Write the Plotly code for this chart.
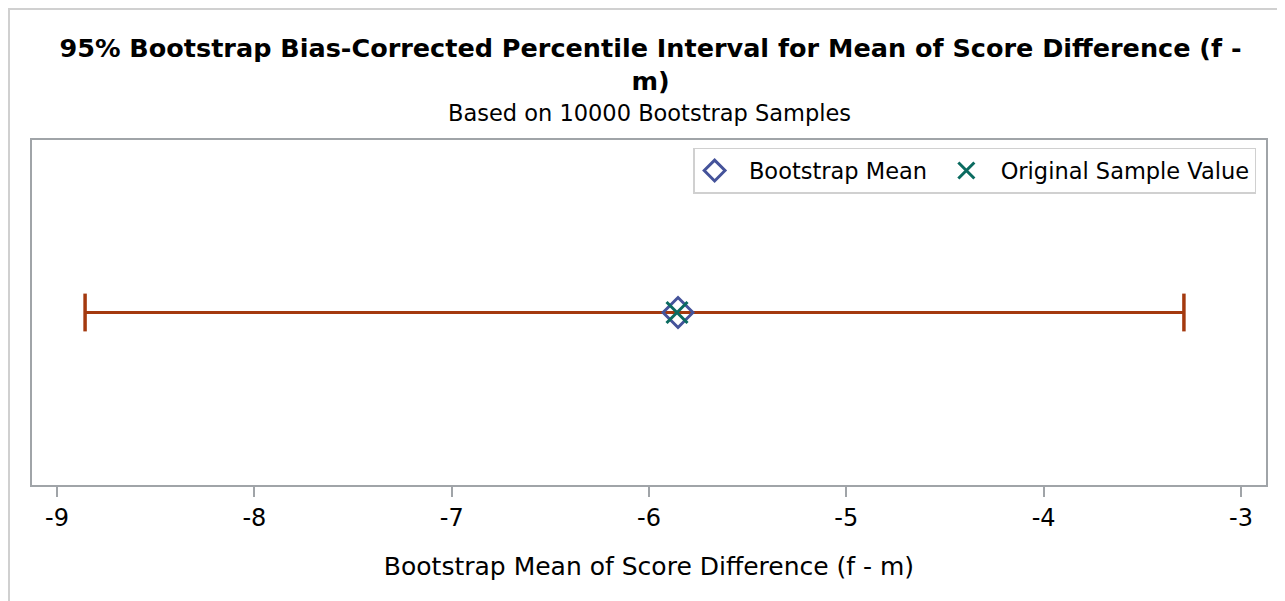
import plotly.graph_objects as go

# Data
ci_lower = -8.858
ci_upper = -3.289
bootstrap_mean = -5.853
original_value = -5.858
x_ticks = [-9, -8, -7, -6, -5, -4, -3]
x_range = [-9.127, -2.873]

title_text = "95% Bootstrap Bias-Corrected Percentile Interval for Mean of Score Difference (f -<br>m)"
subtitle_text = "Based on 10000 Bootstrap Samples"
x_title = "Bootstrap Mean of Score Difference (f - m)"
legend_names = ["Bootstrap Mean", "Original Sample Value"]

FONT = "DejaVu Sans"
CI_COLOR = "#A4390F"
MEAN_COLOR = "#45539A"
ORIG_COLOR = "#0B6B60"

W, H = 1285, 601
ML, MR, MT, MB = 24, 27, 132, 124
PW = W - ML - MR
PH = H - MT - MB
NB = "\u00a0"

fig = go.Figure()

# confidence interval with caps
fig.add_trace(go.Scatter(
    x=[ci_lower, ci_upper], y=[0, 0],
    mode="lines+markers",
    line=dict(color=CI_COLOR, width=3),
    marker=dict(symbol="line-ns", size=27, line=dict(color=CI_COLOR, width=3.5)),
    showlegend=False, hoverinfo="x",
))

fig.add_trace(go.Scatter(
    x=[bootstrap_mean], y=[0], mode="markers", name=NB * 2 + legend_names[0] + NB * 2,
    marker=dict(symbol="diamond-open", size=23, color=MEAN_COLOR,
                line=dict(color=MEAN_COLOR, width=3)),
))
fig.add_trace(go.Scatter(
    x=[original_value], y=[0], mode="markers", name=NB * 2 + legend_names[1],
    marker=dict(symbol="x-thin-open", size=21, color=ORIG_COLOR,
                line=dict(color=ORIG_COLOR, width=3)),
))

fig.update_layout(
    width=W, height=H,
    paper_bgcolor="white", plot_bgcolor="white",
    margin=dict(l=ML, r=MR, t=MT, b=MB),
    font=dict(family=FONT, color="black", size=16),
    title=dict(
        text=f"<b>{title_text}</b>",
        x=0.5, xanchor="center", y=0.918, yanchor="top",
        font=dict(family=FONT, size=25.5, color="black"),
    ),
    annotations=[dict(
        text=subtitle_text, xref="paper", yref="paper", x=0.5, xanchor="center",
        y=1 + (MT - 105) / PH, yanchor="middle", showarrow=False,
        font=dict(family=FONT, size=22.5, color="black"),
    )],
    xaxis=dict(
        range=x_range, tickvals=x_ticks, ticktext=[str(t) for t in x_ticks],
        showgrid=False, zeroline=False,
        showline=True, linecolor="#A0A4A8", linewidth=2, mirror=True,
        ticks="outside", ticklen=10, tickwidth=2, tickcolor="#A0A4A8",
        tickfont=dict(size=24, family=FONT),
        title=dict(text=x_title, font=dict(size=25, family=FONT), standoff=27),
    ),
    yaxis=dict(
        range=[-1, 1], showticklabels=False, showgrid=False, zeroline=False,
        showline=True, linecolor="#A0A4A8", linewidth=2, mirror=True, ticks="",
    ),
    legend=dict(
        orientation="h", x=0.992, xanchor="right", y=0.977, yanchor="top",
        bordercolor="#D0D0D0", borderwidth=1.5, bgcolor="white",
        font=dict(size=22.5, family=FONT), itemsizing="trace",
    ),
    shapes=[dict(type="rect", xref="paper", yref="paper",
                 x0=-(ML - 1) / PW, x1=1 + (MR + 20) / PW,
                 y0=-(MB + 20) / PH, y1=1 + (MT - 1) / PH,
                 line=dict(color="#D0D0D0", width=2), layer="below")],
)

fig.write_html("out.html")
